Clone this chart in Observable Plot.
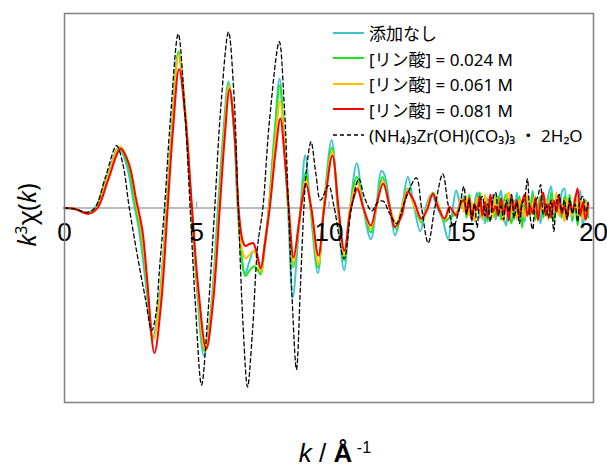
<!DOCTYPE html>
<html>
<head>
<meta charset="utf-8">
<script src="https://cdn.jsdelivr.net/npm/d3@7"></script>
<script src="https://cdn.jsdelivr.net/npm/@observablehq/plot@0.6"></script>
<style>
  html, body { margin: 0; padding: 0; background: #fff; }
  #wrap { position: relative; width: 607px; height: 468px; overflow: hidden; }
  #legend { position: absolute; left: 333px; top: 20px; font-family: "Noto Sans", "Noto Sans CJK JP", sans-serif; font-size: 17px; color: #000; }
  #legend .row { display: flex; align-items: center; height: 25.5px; white-space: nowrap; }
  #legend .row svg { margin-right: 5px; }
  #ylabel { position: absolute; left: 26px; top: 215px; transform: translate(-50%, -50%) rotate(-90deg); font-family: "Noto Sans", sans-serif; font-size: 25px; white-space: nowrap; line-height: 1; }
  #xlabel { position: absolute; left: 335px; top: 440px; transform: translateX(-50%); font-family: "Liberation Sans", Arial, sans-serif; font-size: 26px; white-space: nowrap; line-height: 26px; }
  sup { font-size: 0.62em; vertical-align: 0.55em; line-height: 0; }
</style>
</head>
<body>
<div id="wrap"></div>
<script>
// ---- data ----
const seriesNames = ["添加なし", "[リン酸] = 0.024 M", "[リン酸] = 0.061 M", "[リン酸] = 0.081 M", "(NH₄)₃Zr(OH)(CO₃)₃ ・ 2H₂O"];
const seriesColors = ["#3ec6cc", "#1ee61e", "#ffc000", "#ff0000", "#000000"];
const xTicks = [0, 5, 10, 15, 20];

// smooth part: [k, k^3 chi(k)]
const smoothNone = [[0,0],[0.4,-0.05],[0.85,-0.25],[1.15,0],[1.6,1.6],[2.05,3.1],[2.35,2.2],[2.6,0.4],[2.8,-1],[3.05,-3.6],[3.33,-6.7],[3.6,-4.5],[3.85,0],[4.05,4],[4.3,7.9],[4.55,5],[4.8,0],[5.0,-4],[5.27,-7.6],[5.55,-5],[5.8,0],[6.0,3.8],[6.2,6.5],[6.4,4.2],[6.55,0],[6.72,-2.8],[6.82,-3.4],[6.98,-2.8],[7.15,-2.2],[7.28,-2.6],[7.4,-3.4],[7.55,-2],[7.72,0],[7.95,4],[8.13,6.65],[8.3,3.5],[8.45,0],[8.63,-4.6],[8.82,-1.8],[8.95,0.5],[9.1,2.7],[9.3,0],[9.58,-3.35],[9.8,0],[10.1,3.5],[10.33,0],[10.57,-3.2],[10.8,0],[11.05,2.3],[11.3,0],[11.58,-1.6],[11.8,0.2],[11.98,1.9],[12.1,1.7],[12.3,0.1],[12.5,-1.4],[12.75,0],[12.98,1.6],[13.2,0.2],[13.45,-1.2],[13.65,0],[13.87,0.7],[14.1,0],[14.3,-0.6],[14.5,-1.6],[14.65,-0.3],[14.81,0.9],[15.0,0]];
const smooth024 = [[0,0],[0.4,-0.05],[0.88,-0.27],[1.18,0],[1.6,1.5],[2.08,3.1],[2.4,2.2],[2.65,0.3],[2.85,-1],[3.08,-3.5],[3.35,-6.75],[3.62,-4.5],[3.86,0],[4.06,4],[4.31,8.05],[4.56,5],[4.8,0],[5.02,-4],[5.3,-7.4],[5.57,-5],[5.83,0],[6.02,3.7],[6.21,6.35],[6.41,4],[6.56,0],[6.7,-2.6],[6.84,-3.5],[7.0,-3.2],[7.18,-3.0],[7.3,-3.2],[7.42,-3.4],[7.57,-2],[7.73,0],[7.95,3.8],[8.14,6.3],[8.31,3.3],[8.46,0],[8.65,-3.05],[8.85,-1],[8.97,0.4],[9.11,1.8],[9.3,0],[9.59,-3.05],[9.8,0],[10.11,3.1],[10.34,0],[10.57,-2.7],[10.8,0],[11.05,1.6],[11.3,0],[11.58,-1.25],[11.8,0.1],[12.02,1.6],[12.3,0],[12.55,-1.1],[12.75,0],[12.98,1.0],[13.2,0.2],[13.5,-0.75],[13.7,0],[13.93,0.8],[14.15,0.1],[14.37,-0.7],[14.55,-0.5],[14.8,-0.3],[15.0,0.3]];
const smooth061 = [[0,0],[0.4,-0.05],[0.9,-0.28],[1.2,0],[1.6,1.45],[2.1,3.15],[2.45,2.2],[2.7,0.3],[2.9,-1.1],[3.1,-3.5],[3.36,-6.75],[3.63,-4.5],[3.87,0],[4.07,4],[4.32,7.9],[4.57,5],[4.81,0],[5.03,-4],[5.32,-7.35],[5.58,-5],[5.85,0],[6.03,3.6],[6.22,6.3],[6.42,4],[6.57,0],[6.72,-2.2],[6.85,-2.6],[7.0,-2.4],[7.17,-2.2],[7.3,-2.7],[7.42,-3.3],[7.57,-2],[7.74,0],[7.96,3.3],[8.15,5.5],[8.32,3.0],[8.47,0],[8.66,-2.8],[8.86,-0.9],[8.98,0.4],[9.12,1.5],[9.32,0],[9.6,-2.9],[9.81,0],[10.12,2.9],[10.35,0],[10.58,-2.45],[10.8,0],[11.06,1.3],[11.3,0],[11.58,-1.05],[11.8,0.1],[12.04,1.4],[12.3,0],[12.55,-0.8],[12.75,0],[12.98,0.95],[13.2,0.2],[13.5,-0.6],[13.7,0],[13.92,0.75],[14.15,0.1],[14.37,-0.6],[14.6,0.0],[14.8,-0.4],[15.0,0.5]];
const smooth081 = [[0,0],[0.4,-0.05],[0.92,-0.3],[1.25,0],[1.65,1.45],[2.13,3.05],[2.45,2.2],[2.7,0.5],[2.95,-1.2],[3.12,-3.6],[3.4,-7.45],[3.66,-4.8],[3.9,0],[4.1,4],[4.33,7.15],[4.58,4.5],[4.82,0],[5.05,-4],[5.36,-7.25],[5.62,-4.8],[5.87,0],[6.05,3.5],[6.24,6.1],[6.43,3.8],[6.58,0],[6.72,-1.6],[6.83,-1.95],[7.0,-1.85],[7.13,-1.8],[7.25,-2.2],[7.42,-3.1],[7.58,-1.8],[7.76,0],[7.98,2.9],[8.16,4.6],[8.33,2.5],[8.48,0],[8.66,-2.55],[8.86,-0.8],[9.0,0.5],[9.13,1.25],[9.33,0],[9.6,-2.45],[9.82,0],[10.13,2.7],[10.36,0],[10.58,-2.2],[10.8,-0.2],[10.95,0.6],[11.07,1.0],[11.3,0],[11.58,-0.9],[11.8,0.2],[12.05,1.25],[12.3,0],[12.48,-0.98],[12.73,-0.46],[12.98,0.82],[13.2,0.4],[13.49,-0.55],[13.7,-0.12],[13.93,0.73],[14.1,0.13],[14.37,-0.55],[14.56,0.05],[14.81,-0.38],[15.0,0.3]];
const smoothRef = [[0,0],[0.4,-0.05],[0.85,-0.22],[1.15,0],[1.55,1.6],[1.97,3.2],[2.2,2.3],[2.45,0],[2.75,-2.4],[3.05,-4.6],[3.3,-6.3],[3.45,-5.5],[3.6,-3],[3.78,0],[4.0,4.5],[4.3,8.95],[4.55,5],[4.75,0],[4.95,-5],[5.18,-9.1],[5.42,-5.5],[5.68,0],[5.9,5],[6.2,9.05],[6.4,6],[6.57,0],[6.75,-6],[6.92,-9.2],[7.1,-6.5],[7.3,-2],[7.5,0],[7.75,4.5],[8.12,8.55],[8.3,5.5],[8.47,0],[8.6,-4.5],[8.77,-8.3],[8.92,-4],[9.05,0],[9.15,2],[9.32,3.4],[9.5,1.8],[9.68,0.4],[9.98,1.15],[10.2,0],[10.57,-2.6],[10.85,0],[11.13,1.5],[11.35,0.5],[11.62,-0.15],[11.85,0.3],[12.05,0.35],[12.3,-0.3],[12.55,-0.8],[12.85,0.3],[13.3,1.55],[13.5,0],[13.75,-1.8],[14.0,0],[14.3,1.75],[14.5,0.2],[14.7,-0.95],[14.9,-0.2]];

// noisy part, sampled on the k grid below
const kNoise = [15.1,15.2,15.3,15.4,15.5,15.6,15.7,15.8,15.9,16.0,16.1,16.2,16.3,16.4,16.5,16.6,16.7,16.8,16.9,17.0,17.1,17.2,17.3,17.4,17.5,17.6,17.7,17.8,17.9,18.0,18.1,18.2,18.3,18.4,18.5,18.6,18.7,18.8,18.9,19.0,19.1,19.2,19.3,19.4,19.5,19.6,19.7,19.8];
const noiseNone = [0.6,-0.3,0.4,-0.7,0.2,0.8,-0.5,0.1,-0.8,0.5,-0.2,0.7,-0.6,0.3,0.9,-0.4,-0.9,0.5,0.0,-0.6,0.8,-0.3,0.4,-0.7,0.6,-0.1,0.9,-0.5,0.2,-0.8,0.5,-0.3,0.7,1.1,-0.6,0.2,-0.4,0.8,1.0,-0.5,0.3,-0.7,0.6,-0.2,0.9,-1.0,0.4,-0.3];
const noise024 = [0.3,-0.5,0.7,-0.2,-0.6,0.4,0.8,-0.3,0.2,-0.7,0.5,0.1,-0.4,0.6,-0.6,0.3,0.7,-0.2,-0.8,0.4,-0.3,0.6,-1.0,0.2,0.5,-0.4,0.7,-0.6,0.1,0.6,-0.5,0.3,-0.2,0.8,-0.7,0.4,0.0,-0.5,0.6,-0.3,0.7,-0.6,0.2,-0.9,0.5,-0.2,0.4,-0.5];
const noise061 = [-0.2,0.6,-0.4,0.3,-0.7,0.5,0.1,-0.6,0.7,-0.1,0.4,-0.5,0.6,-0.3,0.2,-0.7,0.5,0.8,-0.2,0.3,-0.6,0.4,0.1,-0.5,0.7,-0.3,0.2,0.6,-0.7,0.3,-0.1,0.5,-0.6,0.4,-0.2,0.8,-0.4,0.2,-0.7,0.5,0.1,-0.4,0.6,-0.3,0.5,-0.6,0.3,-0.2];
const noise081 = [0.4,-0.3,0.5,-0.6,0.2,-0.1,0.6,-0.4,0.3,-0.5,0.7,-0.2,0.1,-0.4,0.5,-0.3,0.2,-0.65,0.6,-0.1,0.4,-0.5,0.3,0.7,-0.4,0.1,-0.3,0.5,-0.6,0.3,0.8,-0.4,0.2,-0.5,0.4,-0.2,0.6,-0.3,0.1,-0.5,0.3,-0.2,0.4,1.0,-0.4,0.3,-0.6,0.2];
const noiseRef = [1.1,-0.3,0.4,-0.6,0.2,-1.0,0.3,0.6,-0.4,0.2,-0.7,0.5,0.8,-0.3,0.1,-0.6,0.4,-0.2,0.7,-0.5,0.3,-0.8,0.2,0.5,1.5,-0.4,-1.1,0.3,0.6,1.2,-0.3,0.2,-0.5,0.4,-1.2,0.3,0.7,-0.2,0.4,-0.6,0.5,-0.3,0.2,-0.7,0.4,0.6,-0.2,0.3];

// ---- build tidy tables ----
function build(name, smooth, noise) {
  return [
    ...smooth.map(([k, v]) => ({series: name, k, v})),
    ...noise.map((v, i) => ({series: name, k: kNoise[i], v}))
  ];
}
const tables = [
  build(seriesNames[0], smoothNone, noiseNone),
  build(seriesNames[1], smooth024, noise024),
  build(seriesNames[2], smooth061, noise061),
  build(seriesNames[3], smooth081, noise081),
  build(seriesNames[4], smoothRef, noiseRef)
];

const lineMarks = tables.map((t, i) => Plot.line(t, {
  x: "k", y: "v", curve: "catmull-rom",
  stroke: seriesColors[i],
  strokeWidth: i === 4 ? 1.3 : 2,
  strokeDasharray: i === 4 ? "4,3" : null
}));

const chart = Plot.plot({
  width: 607,
  height: 468,
  marginLeft: 64,
  marginRight: 14,
  marginTop: 13,
  marginBottom: 66,
  x: {domain: [0, 20], axis: null},
  y: {domain: [-10, 10], axis: null},
  style: {background: "#fff"},
  marks: [
    Plot.ruleY([0], {stroke: "#a6a6a6", strokeWidth: 1.5}),
    Plot.ruleX(xTicks.slice(1, -1), {y1: 0, y2: 0.32, stroke: "#a6a6a6", strokeWidth: 1.2}),
    ...lineMarks,
    Plot.text(xTicks, {x: d => d, y: 0, text: d => String(d), lineAnchor: "top", dy: 15,
      fontSize: 26, fontFamily: "Liberation Sans, Arial, sans-serif", fill: "#000"}),
    Plot.frame({stroke: "#808080", strokeWidth: 1.5})
  ]
});

const wrap = document.getElementById("wrap");
wrap.appendChild(chart);

// legend
const legend = document.createElement("div");
legend.id = "legend";
seriesNames.forEach((name, i) => {
  const row = document.createElement("div");
  row.className = "row";
  const dash = i === 4 ? 'stroke-dasharray="4,3" stroke-width="1.3"' : 'stroke-width="2"';
  row.innerHTML = `<svg width="31" height="6"><line x1="0" x2="31" y1="3" y2="3" stroke="${seriesColors[i]}" ${dash}/></svg><span>${name}</span>`;
  legend.appendChild(row);
});
wrap.appendChild(legend);

// axis labels
const yl = document.createElement("div");
yl.id = "ylabel";
yl.innerHTML = "<i>k</i><sup>3</sup>χ(<i>k</i>)";
wrap.appendChild(yl);
const xl = document.createElement("div");
xl.id = "xlabel";
xl.innerHTML = "<i>k</i> / <b>Å</b><sup> -1</sup>";
wrap.appendChild(xl);
</script>
</body>
</html>
